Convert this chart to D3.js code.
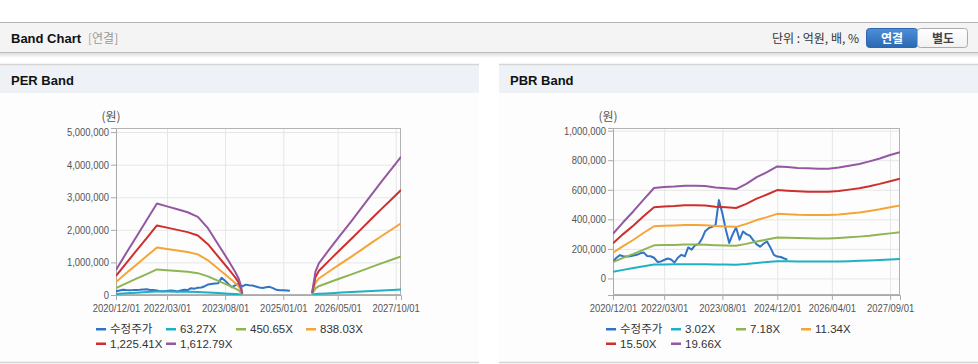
<!DOCTYPE html>
<html>
<head>
<meta charset="utf-8">
<script src="https://cdn.jsdelivr.net/npm/d3@7"></script>
<style>
  body { margin: 0; background: #fff; }
  svg { display: block; font-family: "Liberation Sans", "Noto Sans CJK KR", sans-serif; }
</style>
</head>
<body>
<svg id="chart" width="978" height="364"></svg>
<script>
// ---- data ----
const colors = ["#3174c6", "#1fb0c4", "#8fb552", "#f5a537", "#cf2f2c", "#9358a1"];

// 수정주가 (monthly), shared by both bands
const priceDates = [
  "2020/12/01","2021/01/01","2021/02/01","2021/03/01","2021/04/01","2021/05/01","2021/06/01","2021/07/01",
  "2021/08/01","2021/09/01","2021/10/01","2021/11/01","2021/12/01","2022/01/01","2022/02/01","2022/03/01",
  "2022/04/01","2022/05/01","2022/06/01","2022/07/01","2022/08/01","2022/09/01","2022/10/01","2022/11/01",
  "2022/12/01","2023/01/01","2023/02/01","2023/03/01","2023/04/01","2023/05/01","2023/06/01","2023/07/01",
  "2023/08/01","2023/09/01","2023/10/01","2023/11/01","2023/12/01","2024/01/01","2024/02/01","2024/03/01",
  "2024/04/01","2024/05/01","2024/06/01","2024/07/01","2024/08/01","2024/09/01","2024/10/01","2024/11/01",
  "2024/12/01","2025/01/01","2025/02/01","2025/03/01"
];
const priceValues = [
  115000,140000,158000,150000,148000,150000,155000,160000,170000,175000,152000,150000,
  140000,112000,115000,125000,135000,128000,108000,140000,160000,150000,210000,195000,
  225000,232000,270000,320000,340000,350000,360000,530000,440000,330000,240000,300000,
  345000,262000,318000,300000,290000,260000,230000,215000,235000,250000,210000,160000,
  148000,145000,135000,127000
];

// PER band
const perLabels = ["수정주가", "63.27X", "450.65X", "838.03X", "1,225.41X", "1,612.79X"];
const perDates = [
  "2020/12/01","2021/03/01","2021/06/01","2021/09/01","2021/12/01","2022/03/01","2022/06/01","2022/09/01",
  "2022/12/01","2023/03/01","2023/06/01","2023/09/01","2023/11/01","2023/12/01","2023/12/20","2024/01/01",
  "2024/09/01","2025/09/15","2025/10/15","2025/11/15","2025/12/01","2026/03/01","2026/06/01","2026/09/01",
  "2026/12/01","2027/03/01","2027/06/01","2027/09/01","2027/11/17"
];
const per63 = [30000,50000,70000,90000,110000,107000,103000,100000,94000,80000,61000,41000,27000,20000,11000,2000,
  null,3000,28000,38000,41000,57000,73000,89000,105000,121000,137000,153000,166000];
const per450 = [215000,358000,500000,643000,785000,760000,735000,710000,671000,573000,433000,293000,196000,140000,78000,14000,
  null,20000,201000,274000,293000,408000,522000,634000,749000,863000,978000,1090000,1185000];
const per838 = [400000,665000,930000,1195000,1460000,1413000,1367000,1320000,1247000,1065000,805000,546000,364000,260000,145000,26000,
  null,36000,374000,509000,546000,759000,972000,1180000,1393000,1606000,1819000,2026000,2203000];
const per1225 = [585000,973000,1360000,1748000,2135000,2067000,1998000,1930000,1824000,1558000,1178000,798000,532000,380000,213000,38000,
  null,53000,547000,745000,798000,1109000,1421000,1725000,2036000,2348000,2659000,2963000,3222000];
const per1612 = [770000,1280000,1790000,2300000,2810000,2720000,2630000,2540000,2400000,2050000,1550000,1050000,700000,500000,280000,50000,
  null,70000,720000,980000,1050000,1460000,1870000,2270000,2680000,3090000,3500000,3900000,4240000];
const perXTicks = ["2020/12/01","2022/03/01","2023/08/01","2025/01/01","2026/05/01","2027/10/01"];
const perYTicks = [0,1000000,2000000,3000000,4000000,5000000];

// PBR band
const pbrLabels = ["수정주가", "3.02X", "7.18X", "11.34X", "15.50X", "19.66X"];
const pbrDates = [
  "2020/12/01","2021/03/01","2021/06/01","2021/09/01","2021/12/01","2022/03/01","2022/06/01","2022/09/01",
  "2022/12/01","2023/03/01","2023/06/01","2023/09/01","2023/12/01","2024/03/01","2024/06/01","2024/09/01",
  "2024/12/01","2025/03/01","2025/06/01","2025/09/01","2025/12/01","2026/03/01","2026/06/01","2026/09/01",
  "2026/12/01","2027/03/01","2027/06/01","2027/09/01","2027/11/28"
];
const pbr302 = [46000,58000,70000,82000,94000,95000,96000,96000,96000,96000,94000,94000,93000,98000,105000,111000,
  116000,116000,115000,114000,114000,114000,115000,117000,119000,122000,125000,128000,131000];
const pbr718 = [110000,139000,166000,195000,224000,226000,227000,229000,229000,228000,225000,223000,221000,234000,250000,263000,
  277000,275000,273000,272000,271000,271000,274000,278000,283000,289000,297000,305000,312000];
const pbr1134 = [174000,219000,262000,309000,353000,356000,359000,362000,362000,360000,355000,352000,349000,369000,395000,415000,
  437000,435000,431000,430000,429000,429000,433000,440000,447000,457000,468000,482000,493000];
const pbr1550 = [238000,300000,359000,422000,482000,487000,490000,495000,495000,493000,485000,481000,477000,505000,540000,568000,
  598000,594000,590000,587000,586000,586000,591000,601000,611000,624000,640000,658000,674000];
const pbr1966 = [302000,380000,455000,535000,612000,618000,622000,628000,628000,625000,615000,610000,605000,640000,685000,720000,
  758000,754000,748000,745000,743000,743000,750000,762000,775000,792000,812000,835000,855000];
const pbrXTicks = ["2020/12/01","2022/03/01","2023/08/01","2024/12/01","2026/04/01","2027/09/01"];
const pbrYTicks = [0,200000,400000,600000,800000,1000000];

// ---- drawing ----
const parse = d3.timeParse("%Y/%m/%d");
const fmtDate = d3.timeFormat("%Y/%m/%d");
const svg = d3.select("#chart");
const W = 978;
const squeeze = 0.86; // tick labels are narrower than Liberation Sans

const defs = svg.append("defs");
const sh = defs.append("linearGradient").attr("id", "shadow").attr("x1", 0).attr("x2", 0).attr("y1", 0).attr("y2", 1);
sh.append("stop").attr("offset", 0).attr("stop-color", "#000").attr("stop-opacity", 0.13);
sh.append("stop").attr("offset", 1).attr("stop-color", "#000").attr("stop-opacity", 0);
const blue = defs.append("linearGradient").attr("id", "btnBlue").attr("x1", 0).attr("x2", 0).attr("y1", 0).attr("y2", 1);
blue.append("stop").attr("offset", 0).attr("stop-color", "#4d8fd8");
blue.append("stop").attr("offset", 1).attr("stop-color", "#2b68b2");
const grey = defs.append("linearGradient").attr("id", "btnGrey").attr("x1", 0).attr("x2", 0).attr("y1", 0).attr("y2", 1);
grey.append("stop").attr("offset", 0).attr("stop-color", "#ffffff");
grey.append("stop").attr("offset", 1).attr("stop-color", "#f1f1f1");

// top header bar
svg.append("rect").attr("x", 0).attr("y", 22).attr("width", W).attr("height", 31).attr("fill", "#f4f4f4");
svg.append("rect").attr("x", 0).attr("y", 53).attr("width", W).attr("height", 5).attr("fill", "url(#shadow)");
svg.append("line").attr("x1", 0).attr("x2", W).attr("y1", 22.5).attr("y2", 22.5).attr("stroke", "#b4b4b4");
svg.append("line").attr("x1", 0).attr("x2", W).attr("y1", 52.5).attr("y2", 52.5).attr("stroke", "#bdbdbd");

svg.append("text").attr("x", 11).attr("y", 43).attr("font-size", "13px").attr("font-weight", "bold")
  .attr("fill", "#111").text("Band Chart");
const sub = svg.append("text").attr("x", 88).attr("y", 43).attr("font-size", "12px")
  .attr("font-family", "'Noto Sans CJK KR', sans-serif");
sub.append("tspan").attr("fill", "#c4a27a").text("[");
sub.append("tspan").attr("fill", "#999").text("연결");
sub.append("tspan").attr("fill", "#999").text("]");

svg.append("text").attr("x", 859).attr("y", 43).attr("text-anchor", "end").attr("font-size", "12px")
  .attr("font-family", "'Noto Sans CJK KR', sans-serif").attr("fill", "#333").text("단위 : 억원, 배, %");

svg.append("rect").attr("x", 866.5).attr("y", 28.5).attr("width", 51).attr("height", 19).attr("rx", 3)
  .attr("fill", "url(#btnBlue)").attr("stroke", "#2d66ab");
svg.append("rect").attr("x", 917.5).attr("y", 28.5).attr("width", 50).attr("height", 19).attr("rx", 3)
  .attr("fill", "url(#btnGrey)").attr("stroke", "#aaa");
svg.append("text").attr("x", 892).attr("y", 42.5).attr("text-anchor", "middle").attr("font-size", "12px")
  .attr("font-weight", "bold").attr("font-family", "'Noto Sans CJK KR', sans-serif").attr("fill", "#fff").text("연결");
svg.append("text").attr("x", 943).attr("y", 42.5).attr("text-anchor", "middle").attr("font-size", "12px")
  .attr("font-weight", "bold").attr("font-family", "'Noto Sans CJK KR', sans-serif").attr("fill", "#444").text("별도");

function drawPanel(x0, w, title) {
  svg.append("rect").attr("x", x0).attr("y", 64).attr("width", w).attr("height", 299).attr("fill", "#fdfdfd");
  svg.append("rect").attr("x", x0).attr("y", 64).attr("width", w).attr("height", 29).attr("fill", "#eef2f7");
  svg.append("line").attr("x1", x0).attr("x2", x0 + w).attr("y1", 64.5).attr("y2", 64.5).attr("stroke", "#d4d4d4").attr("stroke-width", 1.5);
  svg.append("line").attr("x1", x0).attr("x2", x0 + w).attr("y1", 362.5).attr("y2", 362.5).attr("stroke", "#d4d4d4").attr("stroke-width", 1.5);
  svg.append("text").attr("x", x0 + 11).attr("y", 85).attr("font-size", "13px").attr("font-weight", "bold")
    .attr("fill", "#111").text(title);
}
drawPanel(0, 479, "PER Band");
drawPanel(499, 479, "PBR Band");

function drawBand(o) {
  const x = d3.scaleTime().domain(o.xDomain.map(parse)).range([o.left, o.right]);
  const y = d3.scaleLinear().domain(o.yDomain).range([295, 128]);
  const g = svg.append("g");

  // grid
  g.append("g").attr("transform", `translate(0,295)`)
    .call(d3.axisBottom(x).tickValues(o.xTicks.map(parse)).tickSize(-167).tickFormat(""))
    .call(a => a.select(".domain").remove())
    .call(a => a.selectAll("line").attr("stroke", "#e6e6e6"));
  g.append("g").attr("transform", `translate(${o.left},0)`)
    .call(d3.axisLeft(y).tickValues(o.yTicks).tickSize(-(o.right - o.left)).tickFormat(""))
    .call(a => a.select(".domain").remove())
    .call(a => a.selectAll("line").attr("stroke", "#e6e6e6"));

  // frame
  g.append("rect").attr("x", o.left + 0.5).attr("y", 128.5).attr("width", o.right - o.left - 1).attr("height", 166)
    .attr("fill", "none").attr("stroke", "#b3b3b3");

  // axes
  const ax = g.append("g").attr("transform", `translate(0,295)`)
    .call(d3.axisBottom(x).tickValues(o.xTicks.map(parse)).tickSize(5).tickPadding(4).tickFormat(fmtDate));
  const ay = g.append("g").attr("transform", `translate(${o.left},0)`)
    .call(d3.axisLeft(y).tickValues(o.yTicks).tickSize(5).tickPadding(2).tickFormat(d3.format(",")));
  [ax, ay].forEach(a => {
    a.select(".domain").attr("stroke", "#aaa");
    a.selectAll(".tick line").attr("stroke", "#aaa");
    a.selectAll(".tick text").attr("fill", "#555").attr("font-size", "11px")
      .attr("font-family", "'Liberation Sans', sans-serif");
  });
  ax.selectAll(".tick text").attr("transform", `scale(${squeeze},1)`);
  ay.selectAll(".tick text").attr("x", -7 / squeeze).attr("transform", `scale(${squeeze},1)`);

  g.append("text").attr("x", o.left - 5).attr("y", 121).attr("text-anchor", "middle").attr("font-size", "12px")
    .attr("font-family", "'Noto Sans CJK KR', sans-serif").attr("fill", "#555").text("(원)");

  // lines
  const clipId = "clip" + o.left;
  defs.append("clipPath").attr("id", clipId).append("rect")
    .attr("x", o.left).attr("y", 128).attr("width", o.right - o.left).attr("height", 167);
  const line = d3.line().defined(d => d[1] != null).x(d => x(d[0])).y(d => y(d[1]));
  const series = [priceDates.map((d, i) => [parse(d), priceValues[i]])]
    .concat(o.bands.map(b => o.dates.map((d, i) => [parse(d), b[i]])));
  g.append("g").attr("clip-path", `url(#${clipId})`)
    .selectAll("path").data(series).join("path")
    .attr("d", line).attr("fill", "none").attr("stroke", (d, i) => colors[i])
    .attr("stroke-width", 2).attr("stroke-linejoin", "round");

  // legend
  const lg = g.append("g").selectAll("g").data(o.labels).join("g")
    .attr("transform", (d, i) => `translate(${o.legendX + (i % 4) * o.legendW},${333 + Math.floor(i / 4) * 14.5})`);
  lg.append("rect").attr("x", 0).attr("y", -5).attr("width", 10).attr("height", 2.5).attr("fill", (d, i) => colors[i]);
  lg.append("text").attr("x", 14).attr("y", 0).attr("font-size", "11.5px").attr("fill", "#333").text(d => d);
}

drawBand({
  left: 116, right: 401, xDomain: ["2020/12/01", "2027/11/17"], yDomain: [0, 5125000],
  xTicks: perXTicks, yTicks: perYTicks, dates: perDates,
  bands: [per63, per450, per838, per1225, per1612], labels: perLabels, legendX: 96, legendW: 70
});
drawBand({
  left: 613, right: 900, xDomain: ["2020/12/01", "2027/11/28"], yDomain: [-112000, 1018000],
  xTicks: pbrXTicks, yTicks: pbrYTicks, dates: pbrDates,
  bands: [pbr302, pbr718, pbr1134, pbr1550, pbr1966], labels: pbrLabels, legendX: 606, legendW: 65
});
</script>
</body>
</html>
